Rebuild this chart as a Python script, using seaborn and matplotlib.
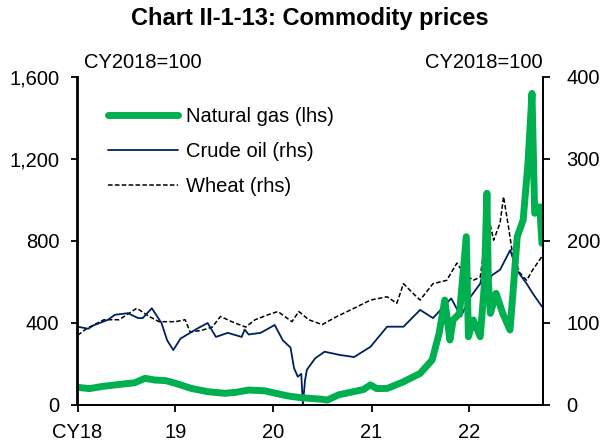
import matplotlib
matplotlib.use("Agg")
import matplotlib.pyplot as plt
import seaborn as sns
import pandas as pd
from matplotlib.lines import Line2D

# ---------------- data ----------------
gas_dates = ["2018-01-02", "2018-02-15", "2018-04-01", "2018-05-15", "2018-07-01", "2018-08-01",
             "2018-09-10", "2018-10-15", "2018-11-25", "2019-01-01", "2019-03-01", "2019-05-01",
             "2019-07-05", "2019-08-15", "2019-10-01", "2019-12-01", "2020-01-10", "2020-02-25",
             "2020-04-10", "2020-05-10", "2020-07-01", "2020-07-20", "2020-09-01", "2020-10-15",
             "2020-12-01", "2020-12-28", "2021-01-20", "2021-03-01", "2021-05-01", "2021-07-01",
             "2021-08-15", "2021-09-10", "2021-10-01", "2021-10-20", "2021-11-01", "2021-11-25",
             "2021-12-20", "2021-12-28", "2022-01-15", "2022-02-10", "2022-02-25", "2022-03-07",
             "2022-03-12", "2022-03-20", "2022-04-10", "2022-05-05", "2022-06-01", "2022-06-12",
             "2022-06-28", "2022-07-20", "2022-08-07", "2022-08-22", "2022-09-01", "2022-09-20",
             "2022-09-28"]
gas_values = [86, 80, 90, 97, 104, 108,
              130, 122, 119, 106, 81, 65,
              57, 62, 73, 69, 57, 44,
              36, 33, 28, 24, 50, 62,
              75, 98, 80, 81, 114, 154,
              220, 351, 512, 317, 415, 447,
              821, 333, 415, 333, 577, 1033,
              610, 447, 545, 447, 366, 545,
              821, 902, 1180, 1520, 935, 967,
              789]

oil_dates = ["2018-01-02", "2018-02-10", "2018-03-01", "2018-04-25", "2018-05-20", "2018-07-08",
             "2018-08-15", "2018-09-01", "2018-10-05", "2018-11-10", "2018-12-01", "2018-12-24",
             "2019-01-20", "2019-03-25", "2019-05-01", "2019-06-01", "2019-07-15", "2019-09-05",
             "2019-09-16", "2019-10-01", "2019-11-15", "2020-01-06", "2020-02-05", "2020-03-05",
             "2020-03-18", "2020-04-01", "2020-04-14", "2020-04-20", "2020-04-28", "2020-05-05",
             "2020-06-05", "2020-07-10", "2020-09-05", "2020-10-28", "2020-12-28", "2021-02-28",
             "2021-04-30", "2021-07-01", "2021-08-18", "2021-10-25", "2021-11-30", "2022-01-05",
             "2022-02-10", "2022-03-07", "2022-03-16", "2022-03-25", "2022-04-25", "2022-06-02",
             "2022-06-25", "2022-08-02", "2022-08-25", "2022-09-28"]
oil_values = [95.5, 93, 97, 104, 110, 112,
              106, 106, 118, 100, 79, 67,
              81, 93.5, 100, 83, 88, 83,
              92, 86, 88, 97.6, 79, 70,
              45, 34.5, 38, 0, 30, 43,
              57, 65, 61, 58.5, 71, 95.5,
              95.5, 116, 106, 130, 108, 132,
              148, 181, 150, 158, 165, 189,
              165, 148, 136, 120]

wheat_dates = ["2018-01-02", "2018-02-05", "2018-04-10", "2018-06-05", "2018-08-10", "2018-09-25",
               "2018-11-01", "2019-01-01", "2019-02-06", "2019-02-25", "2019-04-08", "2019-05-18",
               "2019-06-18", "2019-07-30", "2019-09-20", "2019-10-25", "2019-12-12", "2020-01-18",
               "2020-03-10", "2020-04-05", "2020-05-12", "2020-07-01", "2020-08-25", "2020-10-28",
               "2020-12-28", "2021-02-28", "2021-04-05", "2021-04-30", "2021-06-05", "2021-07-01",
               "2021-08-18", "2021-10-08", "2021-11-15", "2021-12-10", "2022-01-15", "2022-02-10",
               "2022-02-22", "2022-03-04", "2022-03-15", "2022-04-01", "2022-04-25", "2022-05-08",
               "2022-05-26", "2022-06-12", "2022-07-08", "2022-08-02", "2022-08-25", "2022-09-28"]
wheat_values = [85, 93.5, 104, 104, 118, 108,
                101.6, 101.6, 104, 89, 91, 95,
                108, 101.6, 95, 104, 110, 114,
                101.6, 114, 104, 98, 108, 118,
                128, 132, 124, 148, 136, 128,
                148, 152, 173, 161, 152, 156,
                185, 254, 226, 201, 222, 254,
                218, 181, 161, 152, 165, 181]

year_ticks = ["2018-01-01", "2019-01-01", "2020-01-01", "2021-01-01", "2022-01-01"]
year_labels = ["CY18", "19", "20", "21", "22"]
lhs_ticks = [0, 400, 800, 1200, 1600]
rhs_ticks = [0, 100, 200, 300, 400]
labels = ["Natural gas (lhs)", "Crude oil (rhs)", "Wheat (rhs)"]

# ---------------- styling ----------------
sns.set_theme(style="white")
plt.rcParams["font.family"] = ["Liberation Sans", "DejaVu Sans"]
plt.rcParams["text.color"] = "black"
FS = 14.5
GREEN = "#00B050"
NAVY = "#002060"
GAS_LW = 5.0
DASH = (0, (3, 1.5))

gas = pd.DataFrame({"date": pd.to_datetime(gas_dates), "v": gas_values})
oil = pd.DataFrame({"date": pd.to_datetime(oil_dates), "v": oil_values})
wheat = pd.DataFrame({"date": pd.to_datetime(wheat_dates), "v": wheat_values})

fig = plt.figure(figsize=(6.09, 4.47), dpi=100)
ax = fig.add_axes([77.5 / 609, 42 / 447, 465.5 / 609, 328 / 447])
ax2 = ax.twinx()

sns.lineplot(data=wheat, x="date", y="v", ax=ax2, color="black", lw=1.1,
             linestyle=DASH, legend=False)
sns.lineplot(data=oil, x="date", y="v", ax=ax2, color=NAVY, lw=1.3, legend=False)
sns.lineplot(data=gas, x="date", y="v", ax=ax, color=GREEN, lw=GAS_LW,
             solid_capstyle="round", solid_joinstyle="round", legend=False)

ax.set_zorder(ax2.get_zorder() + 1)
ax.patch.set_visible(False)

ax.set_xlim(pd.Timestamp("2018-01-01"), pd.Timestamp("2022-10-02"))
ax.set_ylim(0, 1600)
ax2.set_ylim(0, 400)
ax.set_xticks(pd.to_datetime(year_ticks))
ax.set_xticklabels(year_labels)
ax.set_yticks(lhs_ticks)
ax.set_yticklabels([f"{v:,}" for v in lhs_ticks])
ax2.set_yticks(rhs_ticks)
ax2.set_yticklabels([str(v) for v in rhs_ticks])
ax.set_xlabel("")
ax.set_ylabel("")
ax2.set_ylabel("")

for a in (ax, ax2):
    for s in a.spines.values():
        s.set_color("black")
        s.set_linewidth(1.3)
    a.spines["top"].set_visible(False)
    a.grid(False)

ax.tick_params(axis="x", direction="out", length=5, width=1.3, pad=8, labelsize=FS,
               colors="black", bottom=True)
ax.tick_params(axis="y", direction="out", length=5, width=1.3, pad=8, labelsize=FS,
               colors="black", left=True)
ax2.tick_params(axis="y", direction="out", length=5, width=1.3, pad=12, labelsize=FS,
                colors="black", right=True)

handles = [Line2D([], [], color=GREEN, lw=GAS_LW, solid_capstyle="round"),
           Line2D([], [], color=NAVY, lw=1.3),
           Line2D([], [], color="black", lw=1.1, linestyle=DASH)]
ax.legend(handles, labels, loc="upper left", bbox_to_anchor=(30 / 465.5, 1 - 30 / 328),
          frameon=False, fontsize=FS, handlelength=3.5, handletextpad=0.4,
          labelspacing=0.8, borderpad=0, borderaxespad=0)

fig.text(310 / 609, 1 - 18.5 / 447, "Chart II-1-13: Commodity prices", ha="center", va="center",
         fontsize=17, fontweight="bold", color="black")
fig.text(84 / 609, 1 - 62 / 447, "CY2018=100", ha="left", va="center", fontsize=FS, color="black")
fig.text(543 / 609, 1 - 62 / 447, "CY2018=100", ha="right", va="center", fontsize=FS, color="black")

fig.savefig("out.png", dpi=100)
